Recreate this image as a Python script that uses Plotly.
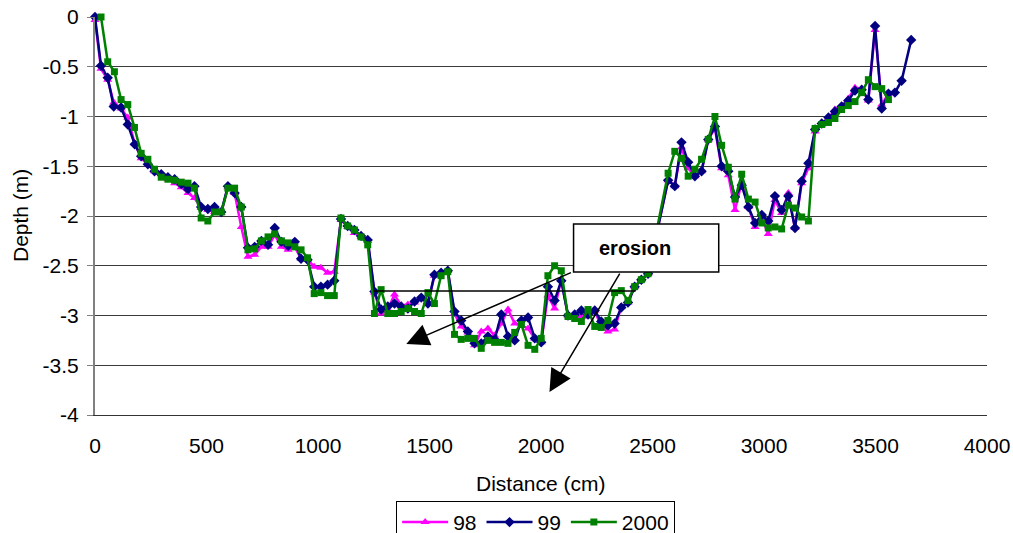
import plotly.graph_objects as go

# Cross-section survey: bed depth along the transect for three survey years
dist_98 = [
    0, 27, 57, 84, 117, 147, 178, 207, 237, 267,
    297, 327, 357, 387, 417, 446, 476, 506, 536, 566,
    596, 626, 656, 686, 716, 746, 776, 806, 836, 866,
    896, 924, 953, 983, 1013, 1043, 1073, 1103, 1133, 1163,
    1193, 1223, 1253, 1283, 1313, 1343, 1373, 1403, 1433, 1463,
    1493, 1522, 1552, 1582, 1612, 1642, 1672, 1702, 1732, 1762,
    1792, 1822, 1852, 1882, 1912, 1942, 1972, 2001, 2031, 2061,
    2091, 2121, 2151, 2181, 2211, 2241, 2270, 2300, 2330, 2360,
    2390, 2420, 2450, 2480, 2570, 2600, 2630, 2660, 2690, 2720,
    2750, 2780, 2810, 2840, 2870, 2900, 2930, 2960, 2990, 3019,
    3049, 3079, 3109, 3139, 3169, 3199, 3229, 3259, 3289, 3318,
    3348, 3378, 3408, 3438, 3468, 3498, 3528, 3558,
]
depth_98 = [
    -0.03, -0.52, -0.63, -0.86, -0.92, -1.01, -1.27, -1.42, -1.48, -1.55,
    -1.58, -1.63, -1.67, -1.71, -1.77, -1.82, -1.92, -1.94, -1.96, -1.97,
    -1.71, -1.77, -2.11, -2.41, -2.39, -2.31, -2.31, -2.19, -2.31, -2.34,
    -2.31, -2.43, -2.44, -2.51, -2.52, -2.57, -2.56, -2.04, -2.11, -2.17,
    -2.21, -2.25, -2.77, -2.98, -2.94, -2.79, -2.90, -2.89, -2.87, -2.83,
    -2.88, -2.60, -2.57, -2.55, -2.98, -3.11, -3.17, -3.30, -3.16, -3.13,
    -3.20, -3.08, -2.94, -3.08, -3.10, -3.13, -3.23, -3.27, -2.80, -2.93,
    -2.64, -3.00, -3.01, -3.01, -3.01, -2.95, -3.11, -3.16, -3.14, -2.91,
    -2.87, -2.71, -2.64, -2.58, -1.64, -1.70, -1.31, -1.52, -1.60, -1.55,
    -1.23, -1.12, -1.52, -1.59, -1.94, -1.66, -1.91, -2.11, -2.02, -2.18,
    -1.84, -1.97, -1.77, -2.12, -1.67, -1.52, -1.15, -1.08, -1.02, -0.93,
    -0.89, -0.82, -0.71, -0.72, -0.84, -0.13, -0.88, -0.77,
]

dist_99 = dist_98 + [3587, 3617, 3660]
depth_99 = [
    0.00, -0.49, -0.61, -0.90, -0.91, -1.08, -1.28, -1.40, -1.48, -1.55,
    -1.58, -1.61, -1.63, -1.68, -1.73, -1.70, -1.91, -1.93, -1.91, -1.96,
    -1.70, -1.77, -1.91, -2.32, -2.31, -2.25, -2.29, -2.12, -2.26, -2.30,
    -2.26, -2.43, -2.44, -2.71, -2.71, -2.69, -2.65, -2.03, -2.10, -2.14,
    -2.20, -2.24, -2.76, -2.94, -2.91, -2.88, -2.91, -2.93, -2.86, -2.82,
    -2.88, -2.59, -2.57, -2.55, -2.96, -3.05, -3.16, -3.28, -3.28, -3.21,
    -3.24, -2.99, -3.21, -3.25, -3.05, -3.02, -3.23, -3.27, -2.71, -2.85,
    -2.65, -3.00, -2.99, -2.95, -2.99, -2.95, -3.06, -3.10, -3.08, -2.92,
    -2.87, -2.71, -2.64, -2.58, -1.64, -1.70, -1.26, -1.46, -1.60, -1.55,
    -1.23, -1.10, -1.50, -1.55, -1.81, -1.69, -1.91, -2.07, -1.99, -2.05,
    -1.80, -1.94, -1.80, -2.12, -1.65, -1.47, -1.13, -1.07, -1.01, -0.95,
    -0.90, -0.84, -0.74, -0.73, -0.83, -0.09, -0.92, -0.77, -0.76, -0.64,
    -0.23,
]

dist_2000 = [
    27, 57, 87, 117, 147, 177, 207, 237, 267, 297,
    327, 357, 387, 417, 446, 476, 506, 536, 566, 596,
    626, 656, 686, 716, 746, 776, 806, 836, 866, 896,
    924, 953, 983, 1013, 1043, 1073, 1103, 1133, 1163, 1193,
    1223, 1253, 1283, 1313, 1343, 1373, 1403, 1433, 1463, 1493,
    1522, 1552, 1582, 1612, 1642, 1672, 1702, 1732, 1762, 1792,
    1822, 1852, 1882, 1912, 1942, 1972, 2001, 2031, 2061, 2091,
    2121, 2151, 2181, 2211, 2241, 2270, 2300, 2330, 2360, 2390,
    2420, 2450, 2480, 2570, 2600, 2630, 2660, 2690, 2720, 2750,
    2780, 2810, 2840, 2870, 2900, 2930, 2960, 2990, 3019, 3049,
    3079, 3109, 3139, 3169, 3199, 3229, 3259, 3289, 3318, 3348,
    3378, 3408, 3438, 3468, 3498, 3528, 3558,
]
depth_2000 = [
    0.00, -0.45, -0.55, -0.83, -0.88, -1.11, -1.37, -1.43, -1.53, -1.61,
    -1.63, -1.64, -1.66, -1.67, -1.72, -2.02, -2.05, -1.96, -1.96, -1.72,
    -1.72, -1.91, -2.34, -2.33, -2.25, -2.21, -2.18, -2.25, -2.27, -2.31,
    -2.34, -2.42, -2.78, -2.77, -2.80, -2.80, -2.02, -2.10, -2.14, -2.21,
    -2.29, -2.98, -2.74, -2.98, -2.98, -2.96, -2.93, -2.96, -2.98, -2.77,
    -2.88, -2.60, -2.56, -3.19, -3.24, -3.23, -3.23, -3.33, -3.25, -3.27,
    -3.27, -3.28, -3.17, -3.09, -3.30, -3.34, -3.23, -2.60, -2.50, -2.55,
    -3.01, -3.03, -3.06, -2.94, -3.11, -3.12, -3.05, -2.77, -2.75, -2.85,
    -2.71, -2.64, -2.58, -1.57, -1.35, -1.42, -1.60, -1.53, -1.43, -1.23,
    -1.00, -1.29, -1.51, -1.83, -1.58, -1.83, -1.86, -2.07, -2.12, -2.11,
    -2.13, -1.89, -1.92, -2.01, -2.05, -1.12, -1.08, -1.06, -1.02, -0.93,
    -0.89, -0.85, -0.76, -0.63, -0.70, -0.72, -0.83,
]

x_ticks = [0, 500, 1000, 1500, 2000, 2500, 3000, 3500, 4000]
x_tick_labels = ["0", "500", "1000", "1500", "2000", "2500", "3000", "3500", "4000"]
y_ticks = [0, -0.5, -1, -1.5, -2, -2.5, -3, -3.5, -4]
y_tick_labels = ["0", "-0.5", "-1", "-1.5", "-2", "-2.5", "-3", "-3.5", "-4"]

FONT = "Liberation Sans, Arial, sans-serif"

series = [
    ("98", dist_98, depth_98, "#FF00FF", "triangle-up", 8),
    ("99", dist_99, depth_99, "#000080", "diamond", 8),
    ("2000", dist_2000, depth_2000, "#008000", "square", 7),
]

fig = go.Figure()
for name, xs, ys, color, symbol, msize in series:
    fig.add_trace(go.Scatter(
        x=xs, y=ys, name=name, mode="lines+markers",
        line=dict(color=color, width=2.5),
        marker=dict(symbol=symbol, size=msize, color=color),
        cliponaxis=False,
    ))

# "erosion" call-out: guide line, box, label and two arrows
fig.add_shape(type="line", xref="x", yref="y", x0=1248, x1=2424, y0=-2.755, y1=-2.755,
              line=dict(color="black", width=1.5), layer="above")
fig.add_shape(type="rect", xref="x", yref="y", x0=2146, x1=2797, y0=-2.08, y1=-2.563,
              line=dict(color="black", width=1.5), fillcolor="white", layer="above")
fig.add_annotation(x=2249, y=-2.32, xref="x", yref="y", text="<b>erosion</b>",
                   showarrow=False, xanchor="left", yanchor="middle",
                   font=dict(family=FONT, size=20, color="black"))
for tail_x, tail_y, head_x, head_y in [(2141, -2.563, 1396, -3.286),
                                       (2357, -2.563, 2038, -3.769)]:
    fig.add_annotation(x=head_x, y=head_y, ax=tail_x, ay=tail_y,
                       xref="x", yref="y", axref="x", ayref="y",
                       text="", showarrow=True, arrowhead=2, arrowsize=3,
                       arrowwidth=1.5, arrowcolor="black")

# axis titles
fig.add_annotation(x=0.5, y=-0.172, xref="paper", yref="paper", text="Distance (cm)",
                   showarrow=False, xanchor="center", yanchor="middle",
                   font=dict(family=FONT, size=21, color="black"))
fig.add_annotation(x=0, y=0.5, xref="paper", yref="paper", xshift=-75, text="Depth (m)",
                   textangle=-90, showarrow=False, xanchor="center", yanchor="middle",
                   font=dict(family=FONT, size=21, color="black"))

fig.update_layout(
    width=1013, height=533,
    margin=dict(l=95, r=26, t=17, b=118, autoexpand=False),
    paper_bgcolor="white", plot_bgcolor="white",
    font=dict(family=FONT, size=21, color="black"),
    showlegend=True,
    legend=dict(orientation="h", x=0.494, xanchor="center", y=-0.216, yanchor="top",
                bordercolor="black", borderwidth=1, bgcolor="white",
                font=dict(family=FONT, size=21, color="black"),
                itemwidth=46, tracegroupgap=0),
    xaxis=dict(range=[0, 4000], tickvals=x_ticks, ticktext=x_tick_labels,
               showgrid=False, zeroline=False, showline=True, linecolor="#333333",
               linewidth=1, ticks="", ticklabelstandoff=12,
               tickfont=dict(family=FONT, size=21, color="black")),
    yaxis=dict(range=[-4, 0], tickvals=y_ticks, ticktext=y_tick_labels,
               showgrid=True, gridcolor="#3a3a3a", gridwidth=1, zeroline=False,
               showline=True, linecolor="#808080", linewidth=2,
               ticks="outside", ticklen=6, tickcolor="#808080", ticklabelstandoff=4,
               tickfont=dict(family=FONT, size=21, color="black")),
)

fig.write_html("out.html")
